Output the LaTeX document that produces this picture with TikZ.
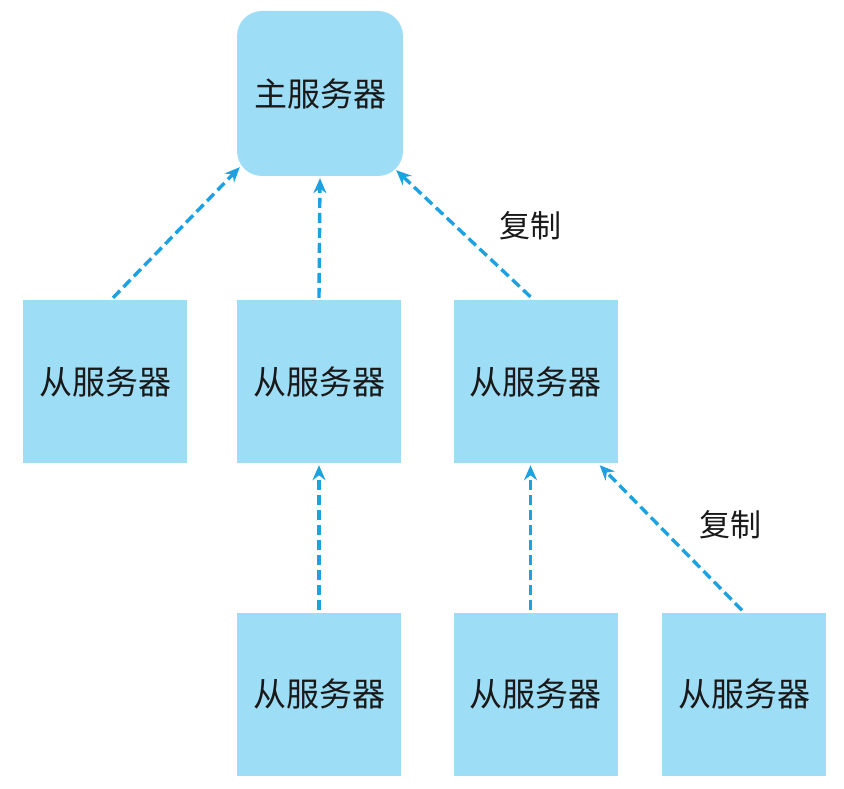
\documentclass[tikz,border=0pt]{standalone}
\usepackage{fontspec}
\newfontfamily\cjk{Noto Sans CJK SC}
\usetikzlibrary{calc,arrows.meta}
\definecolor{boxfill}{RGB}{158,221,246}
\definecolor{arrowc}{RGB}{28,162,224}
\tikzset{
  x=1pt,y=1pt,
  srv/.style={rectangle,fill=boxfill,inner sep=0pt,minimum width=164pt,minimum height=163pt,font=\cjk\fontsize{33}{40}\selectfont,text=black!90},
  master/.style={srv,minimum width=166pt,minimum height=165pt,rounded corners=25pt},
  repl/.style={draw=arrowc,line width=3.4pt,dash pattern=on 10pt off 5pt,-{Stealth[length=15pt,width=13pt]}},
  lbl/.style={font=\cjk\fontsize{31}{38}\selectfont,text=black!90}
}
\begin{document}
\begin{tikzpicture}
\useasboundingbox (0,0) rectangle (844,-789);
\node[master] (m) at (320,-93.5) {主服务器};
\node[srv] (s1) at (105,-381.5) {从服务器};
\node[srv] (s2) at (319,-381.5) {从服务器};
\node[srv] (s3) at (535.5,-381.5) {从服务器};
\node[srv] (s4) at (319,-694) {从服务器};
\node[srv] (s5) at (535.5,-694) {从服务器};
\node[srv] (s6) at (744,-694) {从服务器};
\draw[repl] ($(s1.north)+(8,2)$) -- ($(m.south west)+(3,9)$);
\draw[repl] ($(s2.north)+(0,2)$) -- ($(m.south)+(0,-2)$);
\draw[repl] ($(s3.north)+(-5,3)$) -- ($(m.south east)+(-7,6)$);
\draw[repl] ($(s4.north)+(0,2)$) -- ($(s2.south)+(0,-2)$);
\draw[repl] ($(s5.north)+(-5,2)$) -- ($(s3.south)+(-5,-2)$);
\draw[repl] ($(s6.north)+(-2,2)$) -- ($(s3.south east)+(-18,-2)$);
\node[lbl] (l1) at (530,-226) {复制};
\node[lbl] (l2) at (730,-525) {复制};
\end{tikzpicture}
\end{document}
